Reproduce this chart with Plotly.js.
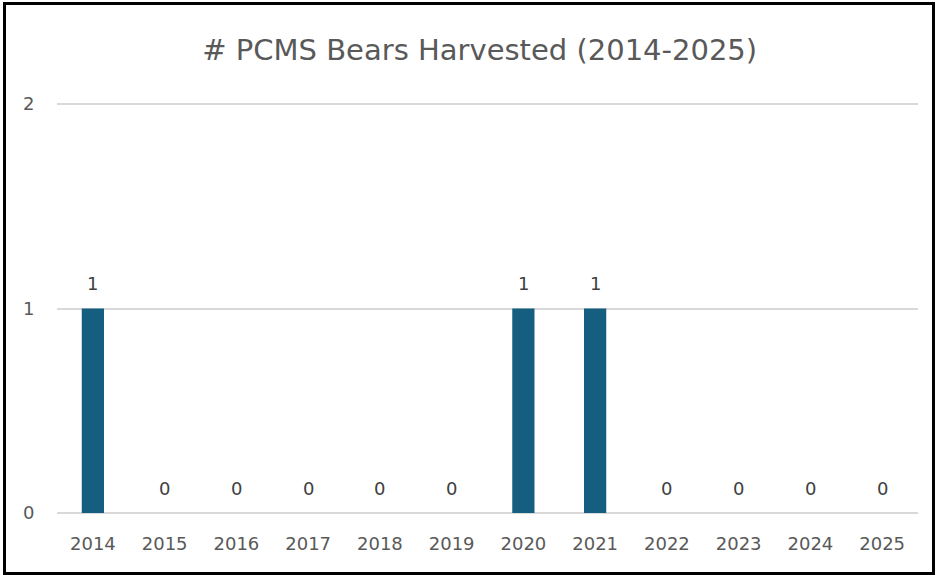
<!DOCTYPE html>
<html>
<head>
<meta charset="utf-8">
<script src="https://cdn.plot.ly/plotly-3.0.1.min.js"></script>
<style>
html,body{margin:0;padding:0;background:#fff;}
#wrap{position:relative;width:937px;height:575px;}
#chart{width:937px;height:575px;}
#frame{position:absolute;left:3px;top:2px;width:926px;height:567px;border:3px solid #000;pointer-events:none;}
</style>
</head>
<body>
<div id="wrap"><div id="chart"></div><div id="frame"></div></div>
<script>
const years = ['2014','2015','2016','2017','2018','2019','2020','2021','2022','2023','2024','2025'];
const bears = [1,0,0,0,0,0,1,1,0,0,0,0];
const yTicks = [0,1,2];

const font = 'DejaVu Sans, sans-serif';
// annotations placed by category index on the category axis
const labels = years.map((yr, i) => ({
  x: i, y: bears[i], xref: 'x', yref: 'y', text: String(bears[i]),
  showarrow: false, yanchor: 'middle', xanchor: 'center', yshift: 25,
  font: {family: font, size: 18, color: '#404040'}
}));
Plotly.newPlot('chart', [{
  type: 'bar',
  x: years,
  y: bears,
  marker: {color: '#155e80'},
  hoverinfo: 'x+y'
}], {
  width: 937, height: 575,
  margin: {l: 57, r: 19, t: 102, b: 62},
  paper_bgcolor: '#fff', plot_bgcolor: '#fff',
  bargap: 0.69,
  showlegend: false,
  annotations: labels,
  title: {text: '# PCMS Bears Harvested (2014-2025)', x: 0.512, xref: 'container', xanchor: 'center', y: 0.913, yref: 'container', yanchor: 'middle', font: {family: font, size: 29, color: '#595959'}},
  xaxis: {type: 'category', categoryorder: 'array', categoryarray: years, range: [-0.5, years.length - 0.5], autorange: false, tickfont: {family: font, size: 18, color: '#595959'}, ticks: 'outside', ticklen: 14, tickcolor: 'rgba(0,0,0,0)', showgrid: false, showline: false, zeroline: false, fixedrange: true},
  yaxis: {range: [0, 2.01], autorange: false, tickvals: yTicks, ticktext: yTicks.map(String), tickfont: {family: font, size: 18, color: '#595959'}, ticks: 'outside', ticklen: 18, tickcolor: 'rgba(0,0,0,0)', showgrid: true, gridcolor: '#d9d9d9', gridwidth: 2, zeroline: true, zerolinecolor: '#d9d9d9', zerolinewidth: 2, showline: false, fixedrange: true}
}, {displayModeBar: false, staticPlot: true});
</script>
</body>
</html>
